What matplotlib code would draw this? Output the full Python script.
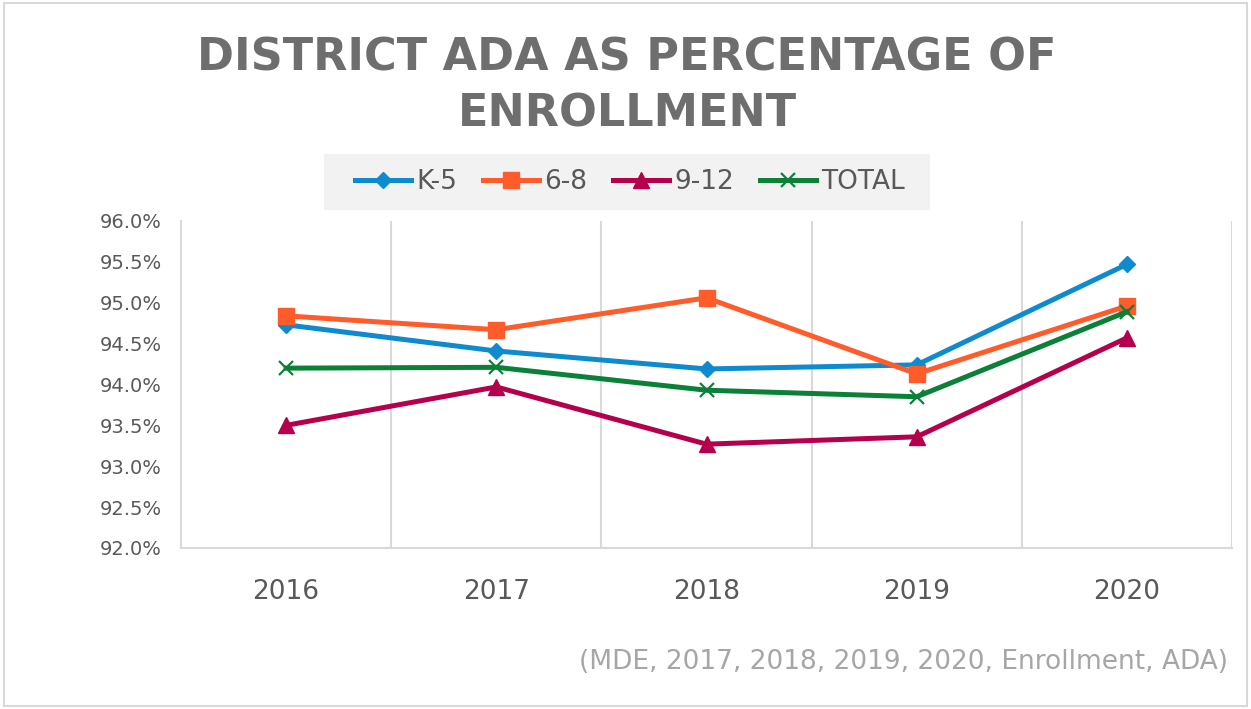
import numpy as np
import matplotlib.pyplot as plt
from matplotlib.patches import Rectangle
from matplotlib.ticker import FuncFormatter

years = ['2016', '2017', '2018', '2019', '2020']
k5 = [94.73, 94.41, 94.19, 94.24, 95.47]
g68 = [94.84, 94.67, 95.06, 94.13, 94.96]
g912 = [93.50, 93.97, 93.27, 93.36, 94.57]
total = [94.20, 94.21, 93.93, 93.85, 94.89]

names = ['K-5', '6-8', '9-12', 'TOTAL']
colors = ['#0E8BCF', '#FF5B2B', '#B5004B', '#0A8137']
markers = ['D', 's', '^', 'x']
msizes = [8, 12, 11, 10]

fig = plt.figure(figsize=(12.51, 7.09), dpi=100)
ax = fig.add_axes([0.1447, 0.2271, 0.8401, 0.4612])

x = np.arange(len(years))
series = [k5, g68, g912, total]
handles = []
for vals, c, m, ms, nm in zip(series, colors, markers, msizes, names):
    if m == 'x':
        h, = ax.plot(x, vals, color=c, lw=3.6, marker=m, ms=ms, mew=1.6,
                     label=nm, zorder=3)
    else:
        h, = ax.plot(x, vals, color=c, lw=3.6, marker=m, ms=ms, mec=c,
                     label=nm, zorder=3)
    handles.append(h)

ax.set_xlim(-0.5, 4.5)
ax.set_ylim(92, 96)
ax.set_yticks(np.arange(92, 96.01, 0.5))
ax.yaxis.set_major_formatter(FuncFormatter(lambda v, p: '%.1f%%' % v))
ax.set_xticks(x)
ax.set_xticklabels(years)
for b in np.arange(0.5, 4.6, 1):
    ax.axvline(b, color='#D9D9D9', lw=1.5, zorder=1)

for s in ['top', 'right']:
    ax.spines[s].set_visible(False)
for s in ['left', 'bottom']:
    ax.spines[s].set_color('#D9D9D9')
    ax.spines[s].set_linewidth(1.5)
ax.tick_params(axis='both', length=0, colors='#595959')
ax.tick_params(axis='y', labelsize=14, pad=14)
ax.tick_params(axis='x', labelsize=19, pad=22)

# legend box
fig.patches.append(Rectangle((324 / 1251, 1 - 210 / 709), 606 / 1251, 56 / 709,
                             transform=fig.transFigure, facecolor='#F2F2F2',
                             edgecolor='none', zorder=0))
fig.legend(handles=handles, loc='center', bbox_to_anchor=(630 / 1251, 1 - 182 / 709),
           ncol=4, frameon=False, fontsize=19, labelcolor='#595959',
           handlelength=2.1, handletextpad=0.2, columnspacing=1.0)

fig.text(627 / 1251, 1 - 86 / 709, 'DISTRICT ADA AS PERCENTAGE OF\nENROLLMENT',
         ha='center', va='center', fontsize=32, fontweight='bold',
         color='#6E6E6E', linespacing=1.38)

fig.text(1228 / 1251, 1 - 662 / 709, '(MDE, 2017, 2018, 2019, 2020, Enrollment, ADA)',
         ha='right', va='center', fontsize=19, color='#A6A6A6')

# outer frame
fig.patches.append(Rectangle((0.003, 0.004), 0.994, 0.992, transform=fig.transFigure,
                             facecolor='none', edgecolor='#D9D9D9', lw=1.5))

plt.savefig('out.png')
